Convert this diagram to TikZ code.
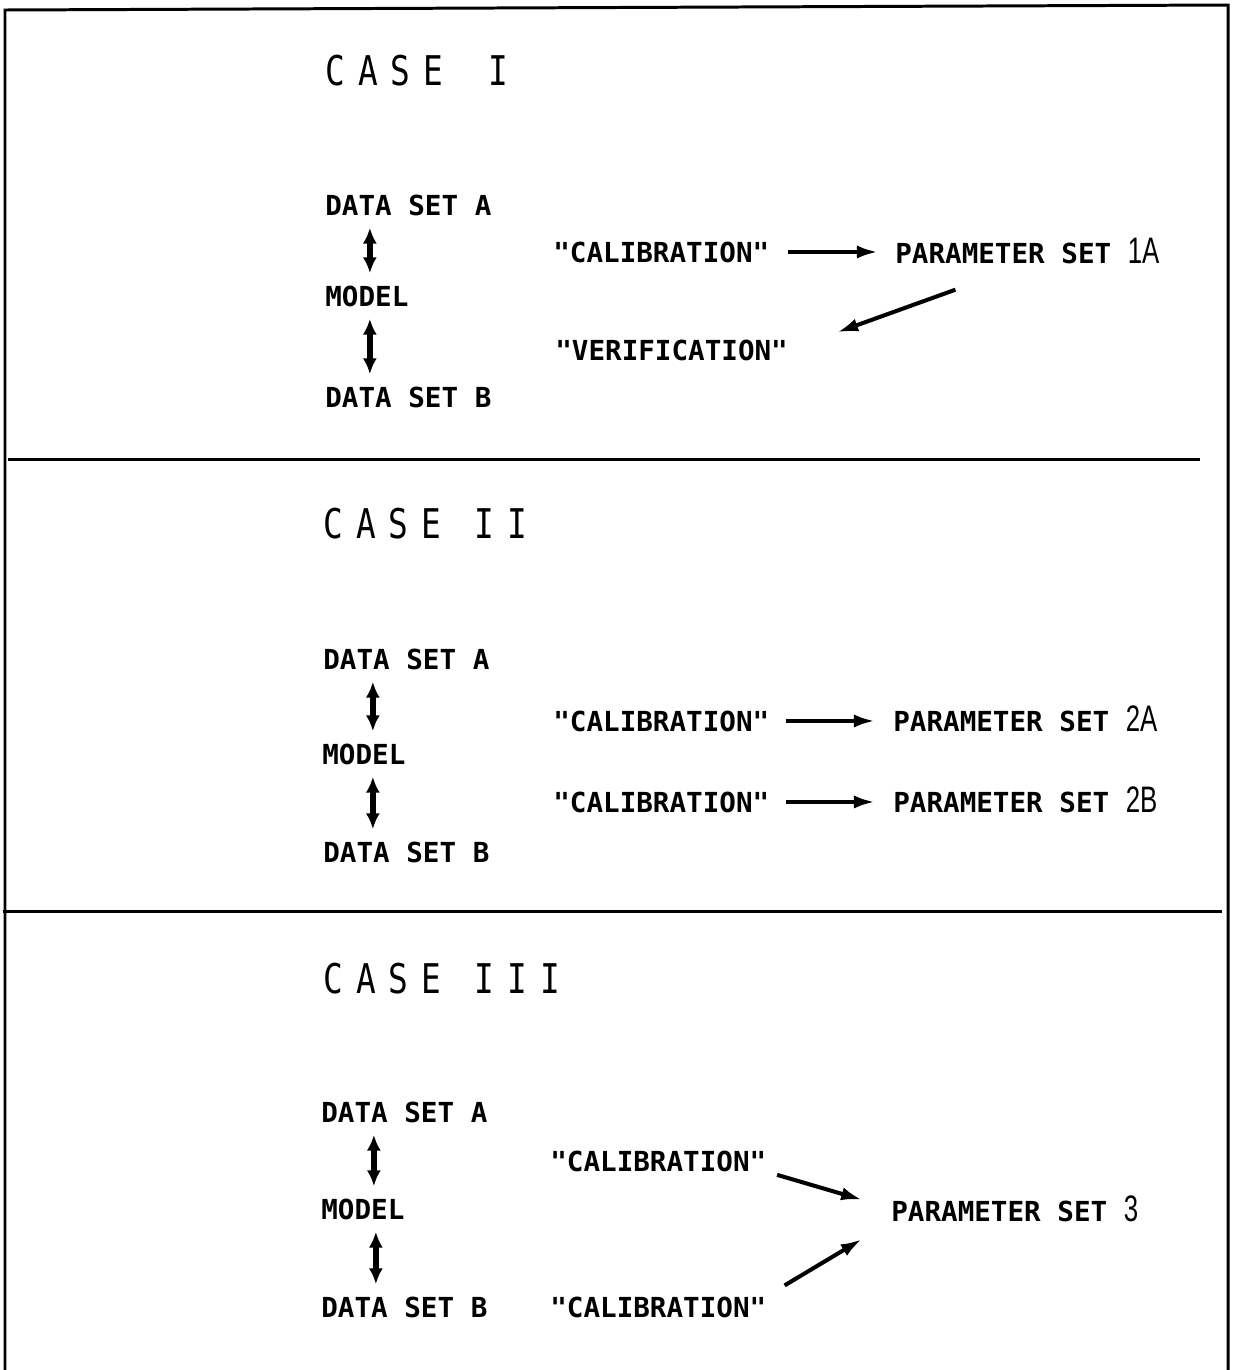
\documentclass[tikz,border=0pt]{standalone}
\usepackage{fontspec}
\setmainfont{DejaVu Sans}
\setmonofont{DejaVu Sans Mono}
\newfontfamily\titlefont[FakeStretch=0.8,LetterSpace=32]{DejaVu Sans Mono}
\newfontfamily\digitfont[FakeStretch=0.7]{Liberation Sans}
\usetikzlibrary{arrows.meta}
\newcommand{\setno}[1]{{\digitfont\mdseries\fontsize{21}{24}\selectfont #1}}

\begin{document}
\begin{tikzpicture}[x=0.02cm, y=-0.02cm,
    every node/.style={inner sep=0pt, anchor=base west},
    casehead/.style={font=\titlefont\fontsize{23.3}{28}\selectfont},
    dataitem/.style={font=\ttfamily\bfseries\fontsize{15.7}{19}\selectfont},
    calib/.style={font=\ttfamily\bfseries\fontsize{15.7}{19}\selectfont},
    frame/.style={line width=1.7pt},
    onearrow/.style={line width=2.3pt, -{Latex[length=12pt,width=7.5pt]}},
    twoarrow/.style={line width=3pt, {Latex[length=9pt,width=8pt]}-{Latex[length=9pt,width=8pt]},
        shorten <=0.24cm, shorten >=0.24cm}]
    \useasboundingbox (0,0) rectangle (1234,1370);

    % Frame and dividers
    \draw[frame] (5,1370) -- (5,10) -- (1228,5) -- (1228,1370);
    \draw[frame] (8,459) -- (1200,459);
    \draw[frame] (3,911) -- (1222,911);

    % Case I
    \node[casehead] (c1) at (325,85) {CASE \hspace{0.24cm}I};
    \node[dataitem] (dsa1) at (325,215) {DATA SET A};
    \node[dataitem] (mdl1) at (325,306) {MODEL};
    \node[dataitem] (dsb1) at (325,407) {DATA SET B};
    \node[calib] (cal1) at (553,262) {"CALIBRATION"};
    \node[calib] (par1) at (895,263) {PARAMETER SET \setno{1A}};
    \node[calib] (ver1) at (555,360) {"VERIFICATION"};
    \draw[twoarrow] ([xshift=0.06cm]dsa1.south -| mdl1) -- ([xshift=0.06cm]mdl1.north);
    \draw[twoarrow] ([xshift=0.06cm]mdl1.south) -- ([xshift=0.06cm]dsb1.north -| mdl1);
    \draw[onearrow, shorten <=0.36cm, shorten >=0.34cm] (cal1.east) -- (cal1.east -| par1.west);
    \draw[onearrow, shorten <=1.53cm, shorten >=1.04cm] (par1.south) -- (ver1.east);

    % Case II
    \node[casehead] (c2) at (323,538) {CASE\hspace{0.66cm}II};
    \node[dataitem] (dsa2) at (323,669) {DATA SET A};
    \node[dataitem] (mdl2) at (322,764) {MODEL};
    \node[dataitem] (dsb2) at (323,862) {DATA SET B};
    \node[calib] (cal2a) at (553,731) {"CALIBRATION"};
    \node[calib] (par2a) at (893,731) {PARAMETER SET \setno{2A}};
    \node[calib] (cal2b) at (553,812) {"CALIBRATION"};
    \node[calib] (par2b) at (893,812) {PARAMETER SET \setno{2B}};
    \draw[twoarrow] ([xshift=0.18cm]dsa2.south -| mdl2) -- ([xshift=0.18cm]mdl2.north);
    \draw[twoarrow] ([xshift=0.18cm]mdl2.south) -- ([xshift=0.18cm]dsb2.north -| mdl2);
    \draw[onearrow, shorten <=0.32cm, shorten >=0.36cm] (cal2a.east) -- (cal2a.east -| par2a.west);
    \draw[onearrow, shorten <=0.32cm, shorten >=0.36cm] (cal2b.east) -- (cal2b.east -| par2b.west);

    % Case III
    \node[casehead] (c3) at (323,993) {CASE\hspace{0.66cm}III};
    \node[dataitem] (dsa3) at (321,1122) {DATA SET A};
    \node[dataitem] (mdl3) at (321,1219) {MODEL};
    \node[dataitem] (dsb3) at (321,1317) {DATA SET B};
    \node[calib] (cal3a) at (550,1171) {"CALIBRATION"};
    \node[calib] (cal3b) at (550,1317) {"CALIBRATION"};
    \node[calib] (par3) at (891,1221) {PARAMETER SET \setno{3}};
    \draw[twoarrow] ([xshift=0.22cm]dsa3.south -| mdl3) -- ([xshift=0.22cm]mdl3.north);
    \draw[twoarrow] ([xshift=0.26cm]mdl3.south) -- ([xshift=0.26cm]dsb3.north -| mdl3);
    \draw[onearrow, shorten <=0.22cm, shorten >=0.6cm] (cal3a.south east) -- (par3.west);
    \draw[onearrow, shorten <=0.42cm, shorten >=0.68cm] (cal3b.north east) -- (par3.south west);
\end{tikzpicture}
\end{document}
